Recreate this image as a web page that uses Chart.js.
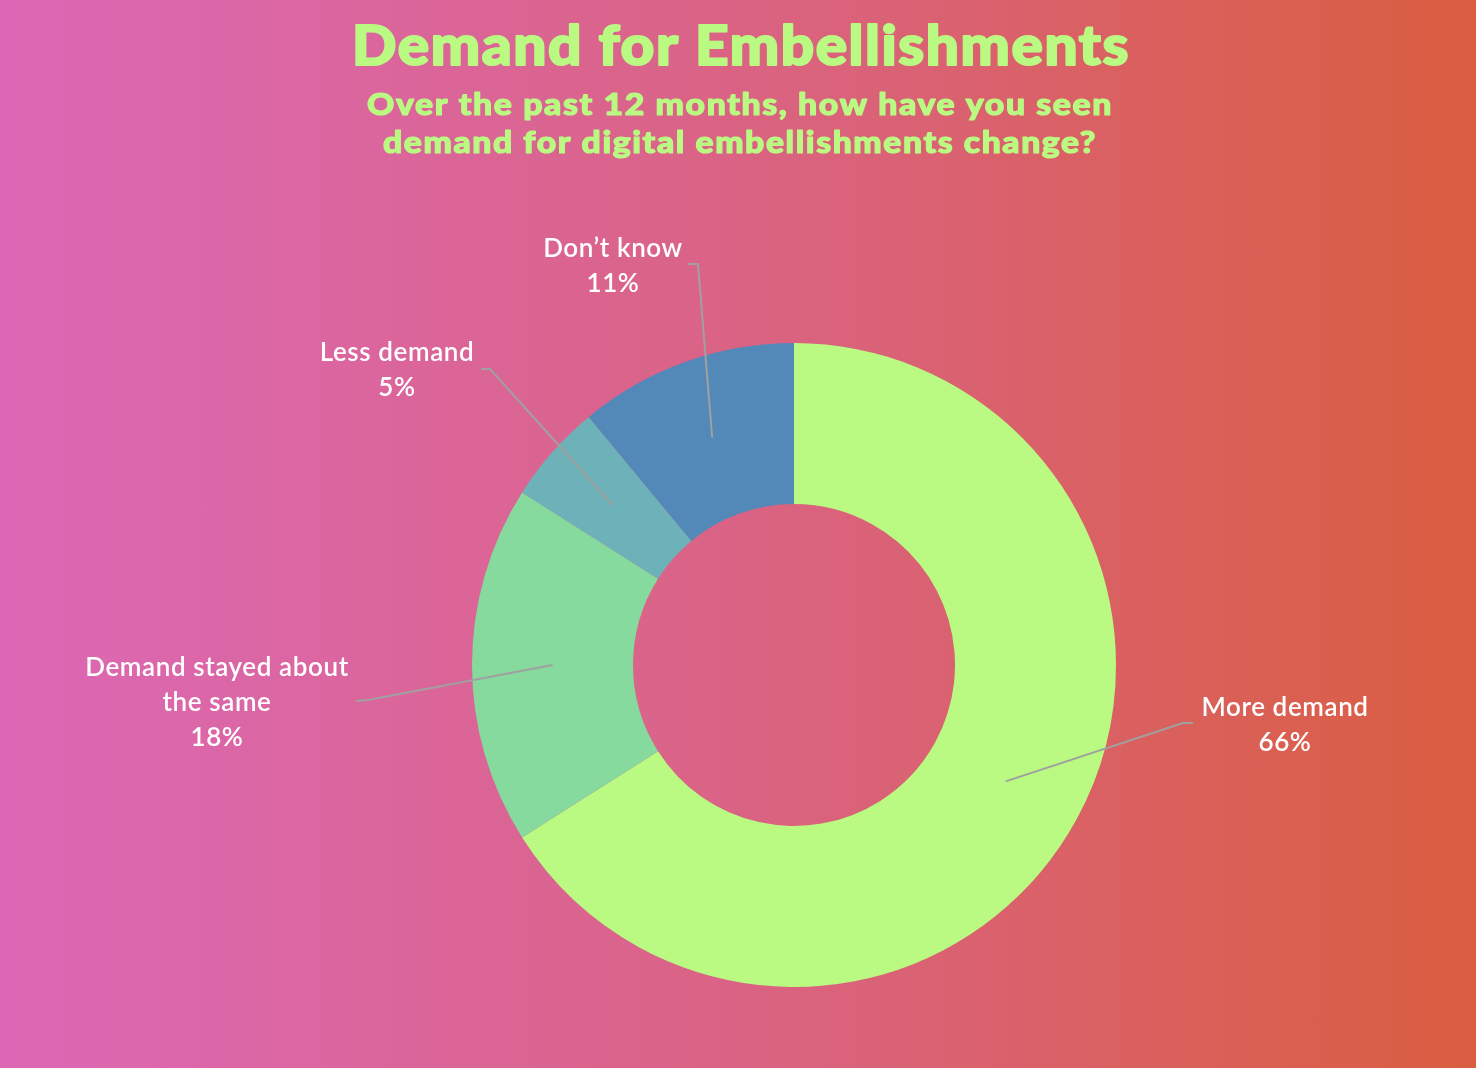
<!DOCTYPE html>
<html>
<head>
<meta charset="utf-8">
<script src="https://cdn.jsdelivr.net/npm/chart.js@4.4.1/dist/chart.umd.min.js"></script>
<style>
  html, body { margin: 0; padding: 0; width: 1476px; height: 1068px; overflow: hidden; }
  body { background: linear-gradient(to right, #DC68B6 0%, #DA6384 50%, #DA5E40 100%); }
  #wrap { position: absolute; left: 0; top: 0; width: 1476px; height: 1068px; }
</style>
</head>
<body>
<div id="wrap"><canvas id="c" width="1476" height="1068"></canvas></div>
<script>
// ---- Data ----
const categories = ['More demand', ['Demand stayed about', 'the same'], 'Less demand', 'Don\u2019t know'];
const values = [66, 18, 5, 11];
const valueLabels = ['66%', '18%', '5%', '11%'];
const sliceColors = ['#BAFA82', '#86DA9E', '#6DB2B8', '#5389B8'];

const titleText = 'Demand for Embellishments';
const subtitleLines = ['Over the past 12 months, how have you seen', 'demand for digital embellishments change?'];

// ---- Label layout (offsets from doughnut centre) ----
const labelLayout = [
  { elbow: [389, 58],   tail: [399, 58],   text: [491, 43] },
  { elbow: [-426, 35],  tail: [-438, 36],  text: [-577, 3] },
  { elbow: [-304, -296], tail: [-313, -296], text: [-397, -312] },
  { elbow: [-96, -401], tail: [-106, -401], text: [-181, -416] }
];

// Stretch text horizontally (a wide geometric look) and add a slight letter spacing
function drawFitted(ctx, text, cx, cy, targetW, stroke) {
  ctx.letterSpacing = '1.5px';
  const w = ctx.measureText(text).width;
  const sx = targetW / w;
  ctx.save();
  ctx.translate(cx, cy);
  ctx.scale(sx, 1);
  if (stroke) {
    ctx.lineWidth = stroke;
    ctx.lineJoin = 'round';
    ctx.strokeText(text, 0, 0);
  }
  ctx.fillText(text, 0, 0);
  ctx.restore();
  ctx.letterSpacing = '0px';
}

const headerPlugin = {
  id: 'header',
  afterDraw(chart) {
    const ctx = chart.ctx;
    ctx.save();
    ctx.fillStyle = '#BAFA82';
    ctx.strokeStyle = '#BAFA82';
    ctx.textAlign = 'center';
    ctx.textBaseline = 'middle';
    ctx.font = '900 55px Lato';
    drawFitted(ctx, titleText, 741, 47, 778, 2);
    ctx.font = '900 31px Lato';
    drawFitted(ctx, subtitleLines[0], 740, 105, 746, 1.2);
    drawFitted(ctx, subtitleLines[1], 740, 143, 714, 1.2);
    ctx.restore();
  }
};

const leaderPlugin = {
  id: 'leaders',
  afterDatasetsDraw(chart) {
    const ctx = chart.ctx;
    const meta = chart.getDatasetMeta(0);
    ctx.save();
    meta.data.forEach((arc, i) => {
      const p = arc.getProps(['x', 'y', 'startAngle', 'endAngle', 'innerRadius', 'outerRadius'], true);
      const mid = (p.startAngle + p.endAngle) / 2;
      const r = (p.innerRadius + p.outerRadius) / 2;
      const sx = p.x + r * Math.cos(mid);
      const sy = p.y + r * Math.sin(mid);
      const L = labelLayout[i];
      ctx.strokeStyle = '#A0A0A0';
      ctx.lineWidth = 2;
      ctx.beginPath();
      ctx.moveTo(sx, sy);
      ctx.lineTo(p.x + L.elbow[0], p.y + L.elbow[1]);
      ctx.lineTo(p.x + L.tail[0], p.y + L.tail[1]);
      ctx.stroke();

      const cat = chart.data.labels[i];
      const lines = (Array.isArray(cat) ? cat.slice() : [cat]);
      lines.push(valueLabels[i]);
      ctx.fillStyle = '#FFFFFF';
      ctx.textAlign = 'center';
      ctx.textBaseline = 'middle';
      ctx.font = '600 26px Lato';
      ctx.letterSpacing = '0.6px';
      lines.forEach((t, k) => {
        ctx.fillText(t, p.x + L.text[0], p.y + L.text[1] + k * 35);
      });
      ctx.letterSpacing = '0px';
    });
    ctx.restore();
  }
};

new Chart(document.getElementById('c'), {
  type: 'doughnut',
  data: {
    labels: categories,
    datasets: [{
      data: values,
      backgroundColor: sliceColors,
      borderWidth: 0
    }]
  },
  options: {
    responsive: false,
    animation: false,
    cutout: '50%',
    layout: { padding: { left: 472, right: 360, top: 343, bottom: 81 } },
    plugins: {
      legend: { display: false },
      tooltip: { enabled: false },
      title: { display: false }
    }
  },
  plugins: [headerPlugin, leaderPlugin]
});
</script>
</body>
</html>
